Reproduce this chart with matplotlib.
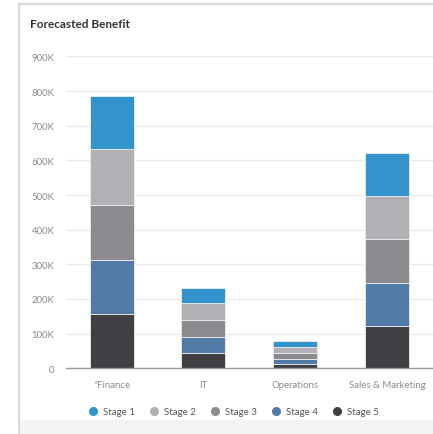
import matplotlib
matplotlib.use("Agg")
import matplotlib.pyplot as plt
from matplotlib.lines import Line2D
from matplotlib.patches import Rectangle
import numpy as np

categories = ["*Finance", "IT", "Operations", "Sales & Marketing"]
stage_names = ["Stage 1", "Stage 2", "Stage 3", "Stage 4", "Stage 5"]
stage5 = [157000, 43000, 12000, 122000]
stage4 = [155000, 48000, 16000, 125000]
stage3 = [159000, 48000, 16000, 125000]
stage2 = [162000, 49000, 18000, 125000]
stage1 = [153000, 44000, 16000, 124000]
yticks = [0, 100000, 200000, 300000, 400000, 500000, 600000, 700000, 800000, 900000]
ytick_labels = ["0", "100K", "200K", "300K", "400K", "500K", "600K", "700K", "800K", "900K"]

colors = {"Stage 1": "#3394CB", "Stage 2": "#B1B1B5", "Stage 3": "#8B8B8F",
          "Stage 4": "#527BA8", "Stage 5": "#3F3F44"}

plt.rcParams['font.family'] = ['Lato', 'DejaVu Sans']

W, H = 433, 435
fig = plt.figure(figsize=(W / 100, H / 100), dpi=100)
fig.patch.set_facecolor("white")

# panel decoration
fig.patches.append(Rectangle((19 / W, 0), 1, 14 / H, transform=fig.transFigure,
                             facecolor="#F3F3F3", edgecolor="none", zorder=0))
fig.lines.append(Line2D([19 / W, 19 / W], [0, 1 - 5 / H], transform=fig.transFigure,
                        color="#D9D9D9", lw=1.6))
fig.lines.append(Line2D([19 / W, 1], [1 - 5 / H, 1 - 5 / H], transform=fig.transFigure,
                        color="#D9D9D9", lw=1.6))

left = 65.7 / W
bottom = (H - 369.3) / H
top = (H - 57.4) / H
ax = fig.add_axes([left, bottom, 1 - left, top - bottom])

x = np.arange(len(categories))
bottoms = np.zeros(len(categories))
stack = [("Stage 5", stage5), ("Stage 4", stage4), ("Stage 3", stage3),
         ("Stage 2", stage2), ("Stage 1", stage1)]
for name, vals in stack:
    ax.bar(x, vals, width=0.48, bottom=bottoms, color=colors[name],
           edgecolor="#EDEDED", linewidth=0.6, zorder=3)
    bottoms += np.array(vals)

ax.set_xlim(-0.5, 3.5)
ax.set_ylim(0, 900000)
ax.set_yticks(yticks)
ax.set_yticklabels(ytick_labels)
ax.set_xticks(x)
ax.set_xticklabels(categories)
ax.tick_params(axis="y", length=0, pad=8, labelsize=6.9, labelcolor="#8A8A8A")
ax.tick_params(axis="x", length=0, pad=8.5, labelsize=6.9, labelcolor="#8A8A8A")
ax.grid(axis="y", color="#EBEBEB", lw=0.9, zorder=0)
ax.set_axisbelow(True)
for s in ["top", "right", "left"]:
    ax.spines[s].set_visible(False)
ax.spines["bottom"].set_color("#9A9A9A")
ax.spines["bottom"].set_linewidth(1.0)
ax.spines["bottom"].set_zorder(4)

fig.text(30 / W, 1 - 25 / H, "Forecasted Benefit", fontsize=8.5, fontweight="bold",
         color="#333333", va="center", ha="left")

handles = [Line2D([], [], marker="o", linestyle="none", markersize=5.5,
                  markerfacecolor=colors[n], markeredgecolor=colors[n]) for n in stage_names]
fig.legend(handles, stage_names, loc="center", bbox_to_anchor=(234 / W, (H - 412.7) / H),
           ncol=5, frameon=False, fontsize=7.0, labelcolor="#555555",
           handlelength=0.8, handletextpad=0.6, columnspacing=1.6)

fig.savefig("out.png", dpi=100)
